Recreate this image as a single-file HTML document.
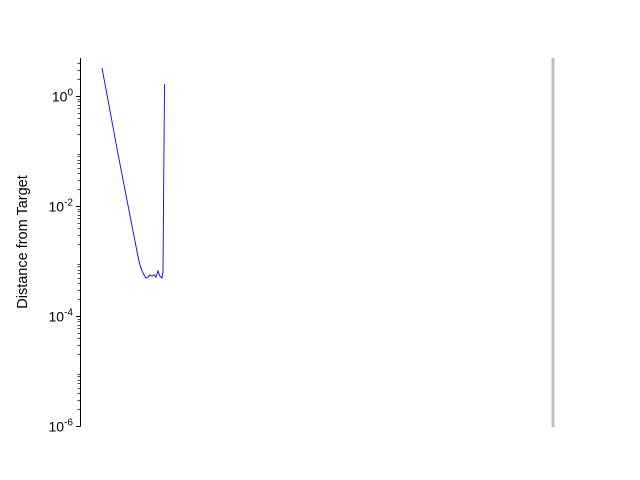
<!DOCTYPE html>
<html><head><meta charset="utf-8">
<style>
html,body{margin:0;padding:0;background:#fff;}
svg{display:block;font-family:"Liberation Sans","DejaVu Sans",sans-serif;}
</style></head>
<body>
<svg id="chart" width="640" height="480" xmlns="http://www.w3.org/2000/svg">
<rect width="640" height="480" fill="#fff"/>
<g id="axis"></g>
<text transform="translate(27,242) rotate(-90)" text-anchor="middle" font-size="14.5" fill="#000">Distance from Target</text>
<line x1="553" y1="58" x2="553" y2="427" stroke="#bfbfbf" stroke-width="3"/>
<path id="series" fill="none" stroke="#0000ff" stroke-width="0.9"/>
</svg>
<script>
const stepIdx = [0,6,15,25,33,36,38,40,42,44,46,48,50,52,54,56,58,60,61,62.5];
const distVals = [3.23,0.846,0.11,0.0127,0.0023,0.0012,8.4e-4,6.6e-4,5.6e-4,4.9e-4,5.1e-4,5.6e-4,5.3e-4,5.6e-4,5.1e-4,6.6e-4,5.3e-4,4.9e-4,6.4e-4,1.65];
const tickExps = [0,-2,-4,-6];
const yMinExp = -6, yMaxExp = 0.69;

const svgNS="http://www.w3.org/2000/svg";
const x0=102, x1=164.5, xDomMax=62.5;
function xs(i){return x0+(x1-x0)*i/xDomMax;}
const yBottom=426, pxPerDec=55;
function ys(v){return yBottom-(Math.log10(v)-yMinExp)*pxPerDec;}

const ax=document.getElementById('axis');
function ln(a,b,c,d,w,name){const l=document.createElementNS(svgNS,'line');
l.setAttribute('x1',a);l.setAttribute('y1',b);l.setAttribute('x2',c);l.setAttribute('y2',d);
l.setAttribute('stroke','#000');l.setAttribute('stroke-width',w);


ax.appendChild(l);}
ln(80.5,ys(Math.pow(10,yMaxExp)),80.5,yBottom+0.5,1,'y-axis-spine');
for(let e=yMinExp;e<yMaxExp;e++){
  for(let k=2;k<=9;k++){const v=k*Math.pow(10,e);if(Math.log10(v)>yMaxExp)break;
    const y=Math.round(ys(v))+0.5; ln(77.5,y,80.5,y,0.7,'y-minor-tick');}
}
tickExps.forEach(e=>{
  const y=Math.round(ys(Math.pow(10,e)))+0.5;
  ln(76,y,80.5,y,1,'y-major-tick');
  const t=document.createElementNS(svgNS,'text');
  t.setAttribute('x',73);t.setAttribute('y',y+5);t.setAttribute('text-anchor','end');
  t.setAttribute('font-size','14');
  
  
  t.innerHTML='10<tspan dy="-6" font-size="10">'+e+'</tspan>';
  ax.appendChild(t);
});
let d='';
stepIdx.forEach((s,i)=>{d+=(i?'L':'M')+xs(s).toFixed(1)+','+ys(distVals[i]).toFixed(1);});
document.getElementById('series').setAttribute('d',d);
</script>
</body></html>
